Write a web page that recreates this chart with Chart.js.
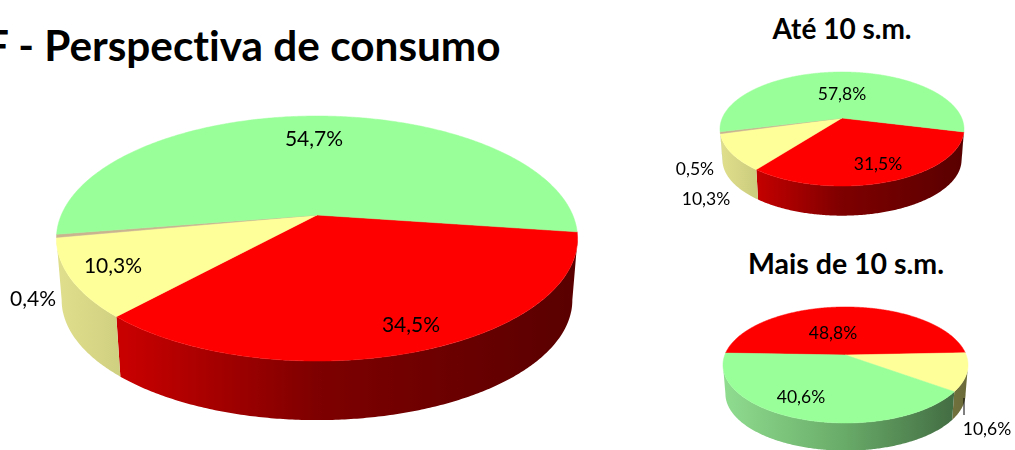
<!DOCTYPE html>
<html lang="pt">
<head>
<meta charset="utf-8">
<title>Perspectiva de consumo</title>
<script src="https://cdn.jsdelivr.net/npm/chart.js@4"></script>
<style>
    html, body { margin: 0; width: 1015px; height: 450px; overflow: hidden; background: #fff; }
    canvas { position: absolute; left: 0; top: 0; }
    .titulo { position: absolute; font-family: Lato, sans-serif; font-weight: 700; color: #000; white-space: nowrap; line-height: 1; font-variant-ligatures: none; }
</style>
</head>
<body>
<div class="titulo" style="left:-15px;top:24px;font-size:42.3px">F - Perspectiva de consumo</div>
<div class="titulo" style="left:742px;top:14px;width:200px;text-align:center;font-size:28px">Até 10 s.m.</div>
<div class="titulo" style="left:716px;top:249px;width:260px;text-align:center;font-size:28.5px">Mais de 10 s.m.</div>
<canvas id="pieTotal" width="1015" height="450"></canvas>
<canvas id="pieAte10" width="1015" height="450"></canvas>
<canvas id="pieMais10" width="1015" height="450"></canvas>
<script>
// Dados
const categoriasTotal = ['Negativa', 'Neutra', 'Não sabe', 'Positiva'];
const valoresTotal = [34.5, 10.3, 0.4, 54.7];

const categoriasAte10 = ['Negativa', 'Neutra', 'Não sabe', 'Positiva'];
const valoresAte10 = [31.5, 10.3, 0.5, 57.8];

const categoriasMais10 = ['Negativa', 'Neutra', 'Positiva'];
const valoresMais10 = [48.8, 10.6, 40.6];

// Cores de cada fatia: topo e degradê da lateral
const CORES = {
    'Negativa': { topo: '#ff0000', lado: ['#e00000', '#7e0000', '#5a0000'] },
    'Neutra':   { topo: '#ffff99', lado: ['#dede8c', '#a0a05c', '#6b6b3a'] },
    'Não sabe': { topo: '#c9b48f', lado: ['#b0a080', '#a09070', '#605040'] },
    'Positiva': { topo: '#99ff99', lado: ['#8fdc8f', '#68aa68', '#3f663f'] }
};

// Desenha a pizza em perspectiva a partir dos ângulos calculados pelo Chart.js
const pizza3d = {
    id: 'pizza3d',
    beforeDatasetsDraw(chart, args, opts) {
        const ctx = chart.ctx;
        const arcos = chart.getDatasetMeta(0).data;
        const labels = chart.data.labels;
        const valores = chart.data.datasets[0].data;

        const projeta = (ang, prof) => {
            const u = Math.cos(ang), v = Math.sin(ang);
            const w = 1 - opts.k * v;
            const s = prof ? opts.escalaBase : 1;
            return [
                opts.x + s * opts.a * u / w,
                opts.y + (prof ? opts.prof : 0) + s * opts.b * v / w
            ];
        };
        const pontos = (ini, fim, prof) => {
            const lista = [];
            const n = Math.max(2, Math.ceil((fim - ini) / 0.01));
            for (let i = 0; i <= n; i++) lista.push(projeta(ini + (fim - ini) * i / n, prof));
            return lista;
        };

        // laterais (só a parte da frente é visível)
        const limite = Math.asin(opts.k);
        arcos.forEach((arco, i) => {
            for (const volta of [0, -2 * Math.PI]) {
                const ini = Math.max(arco.startAngle + volta, limite);
                const fim = Math.min(arco.endAngle + volta, Math.PI - limite);
                if (fim <= ini) continue;
                const grad = ctx.createLinearGradient(opts.x - opts.a, 0, opts.x + opts.a, 0);
                const lado = CORES[labels[i]].lado;
                grad.addColorStop(0, lado[0]);
                grad.addColorStop(0.5, lado[1]);
                grad.addColorStop(1, lado[2]);
                ctx.beginPath();
                pontos(ini, fim, false).forEach(p => ctx.lineTo(p[0], p[1]));
                pontos(ini, fim, true).reverse().forEach(p => ctx.lineTo(p[0], p[1]));
                ctx.closePath();
                ctx.fillStyle = grad;
                ctx.fill();
            }
        });

        // topo
        arcos.forEach((arco, i) => {
            ctx.beginPath();
            ctx.moveTo(opts.x, opts.y);
            pontos(arco.startAngle, arco.endAngle, false).forEach(p => ctx.lineTo(p[0], p[1]));
            ctx.closePath();
            ctx.fillStyle = CORES[labels[i]].topo;
            ctx.strokeStyle = CORES[labels[i]].topo;
            ctx.lineWidth = 0.5;
            ctx.fill();
            ctx.stroke();
        });

        // fio de ligação do rótulo externo
        if (opts.fio) {
            ctx.beginPath();
            ctx.moveTo(opts.fio[0], opts.fio[1]);
            ctx.lineTo(opts.fio[0], opts.fio[2]);
            ctx.strokeStyle = '#000';
            ctx.lineWidth = 1;
            ctx.stroke();
        }

        // rótulos
        ctx.fillStyle = '#000';
        ctx.font = opts.fonte + 'px Lato, sans-serif';
        ctx.textAlign = 'center';
        ctx.textBaseline = 'middle';
        valores.forEach((valor, i) => {
            const txt = valor.toFixed(1).replace('.', ',') + '%';
            ctx.fillText(txt, opts.rotulos[i][0], opts.rotulos[i][1]);
        });
        return false;
    }
};

function criaPizza(id, categorias, valores, rotacao, geom) {
    new Chart(document.getElementById(id).getContext('2d'), {
        type: 'pie',
        data: {
            labels: categorias,
            datasets: [{ data: valores, borderWidth: 0 }]
        },
        options: {
            responsive: false,
            animation: false,
            rotation: rotacao,
            events: [],
            plugins: {
                legend: { display: false },
                tooltip: { enabled: false },
                pizza3d: geom
            }
        },
        plugins: [pizza3d]
    });
}

criaPizza('pieTotal', categoriasTotal, valoresTotal, 98, {
    x: 317, y: 215, a: 255.7, b: 118, k: 0.192, prof: 62, escalaBase: 0.98, fonte: 21,
    rotulos: [[411, 325], [113, 266], [33, 299], [314, 139]]
});
criaPizza('pieAte10', categoriasAte10, valoresAte10, 104, {
    x: 842, y: 118, a: 119.7, b: 54.9, k: 0.193, prof: 31, escalaBase: 0.98, fonte: 17.5,
    rotulos: [[878, 164], [706, 199], [695, 169], [842, 94]]
});
criaPizza('pieMais10', categoriasMais10, valoresMais10, 272, {
    x: 845.5, y: 355, a: 120.7, b: 56.3, k: 0.172, prof: 29, escalaBase: 0.98, fonte: 17.5,
    rotulos: [[833, 333], [987, 429], [801, 397]],
    fio: [964, 398, 415]
});
</script>
</body>
</html>
